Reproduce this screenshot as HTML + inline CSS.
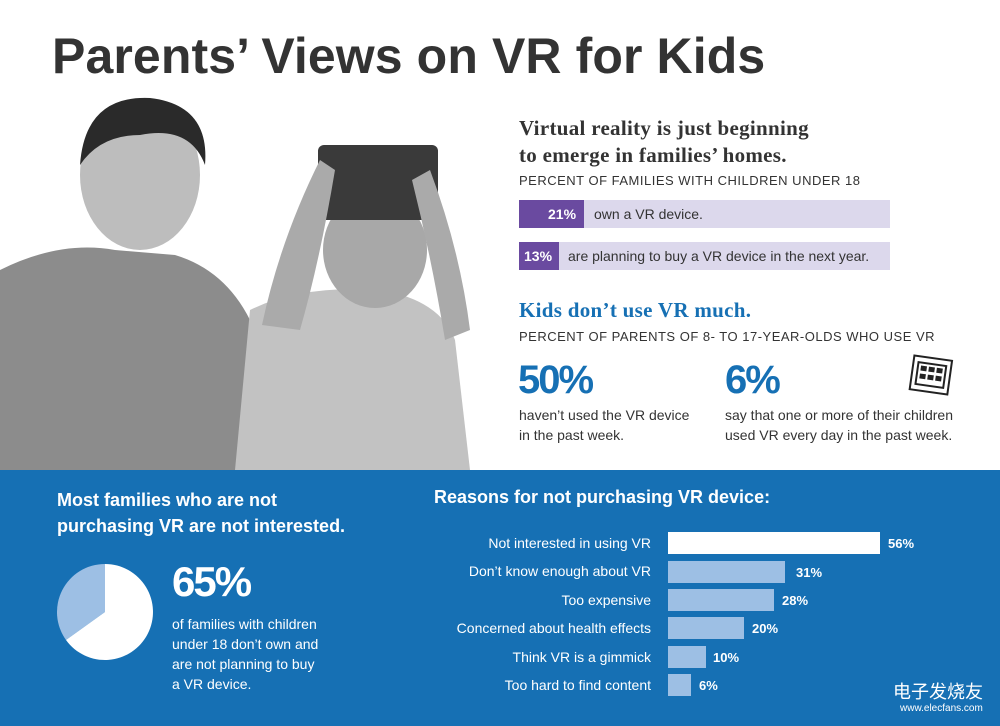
<!DOCTYPE html>
<html><head><style>
body{margin:0;width:1000px;height:726px;overflow:hidden;background:#fff;font-family:"Liberation Sans",sans-serif;position:relative}
.a{position:absolute;white-space:nowrap}
.sl{font-family:"Liberation Serif",serif;font-weight:bold}
</style></head><body>
<svg class="a" style="left:0;top:0" width="1000" height="726">
<path d="M0,270 Q60,240 115,250 L175,255 Q225,270 250,320 L265,470 L0,470Z" fill="#8c8c8c"/>
<ellipse cx="140" cy="175" rx="60" ry="75" fill="#bdbdbd"/>
<path d="M80,165 Q85,95 150,98 Q210,105 205,165 Q190,125 140,135 Q100,135 80,165Z" fill="#2a2a2a"/>
<path d="M250,310 Q300,285 380,290 Q440,300 455,340 L470,470 L235,470Z" fill="#c2c2c2"/>
<ellipse cx="375" cy="250" rx="52" ry="58" fill="#a8a8a8"/>
<rect x="318" y="145" width="120" height="75" rx="6" fill="#3a3a3a"/>
<path d="M335,170 Q320,260 300,330 L262,325 Q280,240 320,160Z" fill="#aaa"/>
<path d="M430,170 Q460,250 470,330 L445,340 Q432,260 412,180Z" fill="#aaa"/>
<rect x="0" y="470" width="1000" height="256" fill="#1670b4"/>
<path d="M105,612 L66,640 A48 48 0 0 1 105,564 Z" fill="#9dbfe4"/>
<path d="M105,612 L105,564 A48 48 0 1 1 66,640 Z" fill="#fff"/>
<rect x="668" y="532" width="212" height="22" fill="#fff"/>
<rect x="668" y="561" width="117" height="22" fill="#9dbfe4"/>
<rect x="668" y="589" width="106" height="22" fill="#9dbfe4"/>
<rect x="668" y="617" width="76" height="22" fill="#9dbfe4"/>
<rect x="668" y="646" width="38" height="22" fill="#9dbfe4"/>
<rect x="668" y="674" width="23" height="22" fill="#9dbfe4"/>
<rect x="519" y="200" width="371" height="28" fill="#dcd8ec"/>
<rect x="519" y="200" width="65" height="28" fill="#6a4aa0"/>
<rect x="519" y="242" width="371" height="28" fill="#dcd8ec"/>
<rect x="519" y="242" width="40" height="28" fill="#6a4aa0"/>
<g fill="none" stroke="#222" stroke-width="2" transform="rotate(8 931 374)"><rect x="912" y="358" width="38" height="34"/><rect x="917" y="364" width="28" height="22"/></g>
<g fill="#222" transform="rotate(8 931 374)"><rect x="920" y="367" width="6" height="5"/><rect x="928" y="367" width="6" height="5"/><rect x="936" y="367" width="6" height="5"/><rect x="920" y="375" width="6" height="5"/><rect x="928" y="375" width="6" height="5"/><rect x="936" y="375" width="6" height="5"/></g>
</svg>
<div class="a" style="left:52px;top:27px;font-size:50px;font-weight:bold;color:#333;letter-spacing:0.1px">Parents’ Views on VR for Kids</div>
<div class="a sl" style="left:519px;top:115px;font-size:21px;line-height:27px;color:#333;letter-spacing:0.3px">Virtual reality is just beginning<br>to emerge in families’ homes.</div>
<div class="a" style="left:519px;top:173px;font-size:13px;color:#333;letter-spacing:0.5px">PERCENT OF FAMILIES WITH CHILDREN UNDER 18</div>
<div class="a" style="left:548px;top:206px;font-size:14px;font-weight:bold;color:#fff">21%</div>
<div class="a" style="left:594px;top:206px;font-size:14px;color:#333">own a VR device.</div>
<div class="a" style="left:524px;top:248px;font-size:14px;font-weight:bold;color:#fff">13%</div>
<div class="a" style="left:568px;top:248px;font-size:14px;color:#333">are planning to buy a VR device in the next year.</div>
<div class="a sl" style="left:519px;top:298px;font-size:21px;color:#1670b4;letter-spacing:0.3px">Kids don’t use VR much.</div>
<div class="a" style="left:519px;top:329px;font-size:13px;color:#333;letter-spacing:0.5px">PERCENT OF PARENTS OF 8- TO 17-YEAR-OLDS WHO USE VR</div>
<div class="a" style="left:518px;top:358px;font-size:40px;font-weight:bold;color:#1670b4;letter-spacing:-2px">50%</div>
<div class="a" style="left:725px;top:358px;font-size:40px;font-weight:bold;color:#1670b4;letter-spacing:-2px">6%</div>
<div class="a" style="left:519px;top:405px;font-size:14px;line-height:20px;color:#333">haven’t used the VR device<br>in the past week.</div>
<div class="a" style="left:725px;top:405px;font-size:14px;line-height:20px;color:#333">say that one or more of their children<br>used VR every day in the past week.</div>
<div class="a" style="left:57px;top:487px;font-size:18px;font-weight:bold;line-height:26px;color:#fff">Most families who are not<br>purchasing VR are not interested.</div>
<div class="a" style="left:434px;top:487px;font-size:18px;font-weight:bold;color:#fff">Reasons for not purchasing VR device:</div>
<div class="a" style="left:172px;top:558px;font-size:42px;font-weight:bold;color:#fff;letter-spacing:-2px">65%</div>
<div class="a" style="left:172px;top:614px;font-size:14px;line-height:20px;color:#fff">of families with children<br>under 18 don’t own and<br>are not planning to buy<br>a VR device.</div>
<div class="a" style="right:349px;top:529px;font-size:14px;color:#fff;text-align:right;line-height:28.4px">Not interested in using VR<br>Don’t know enough about VR<br>Too expensive<br>Concerned about health effects<br>Think VR is a gimmick<br>Too hard to find content</div>
<div class="a" style="left:888px;top:536px;font-size:13px;font-weight:bold;color:#fff">56%</div>
<div class="a" style="left:796px;top:565px;font-size:13px;font-weight:bold;color:#fff">31%</div>
<div class="a" style="left:782px;top:593px;font-size:13px;font-weight:bold;color:#fff">28%</div>
<div class="a" style="left:752px;top:621px;font-size:13px;font-weight:bold;color:#fff">20%</div>
<div class="a" style="left:713px;top:650px;font-size:13px;font-weight:bold;color:#fff">10%</div>
<div class="a" style="left:699px;top:678px;font-size:13px;font-weight:bold;color:#fff">6%</div>
<div class="a" style="left:893px;top:678px;font-size:18px;color:#fff;font-family:'Liberation Sans','Noto Sans CJK SC',sans-serif">电子发烧友</div>
<div class="a" style="left:900px;top:703px;font-size:10px;color:#fff">www.elecfans.com</div>
</body></html>
